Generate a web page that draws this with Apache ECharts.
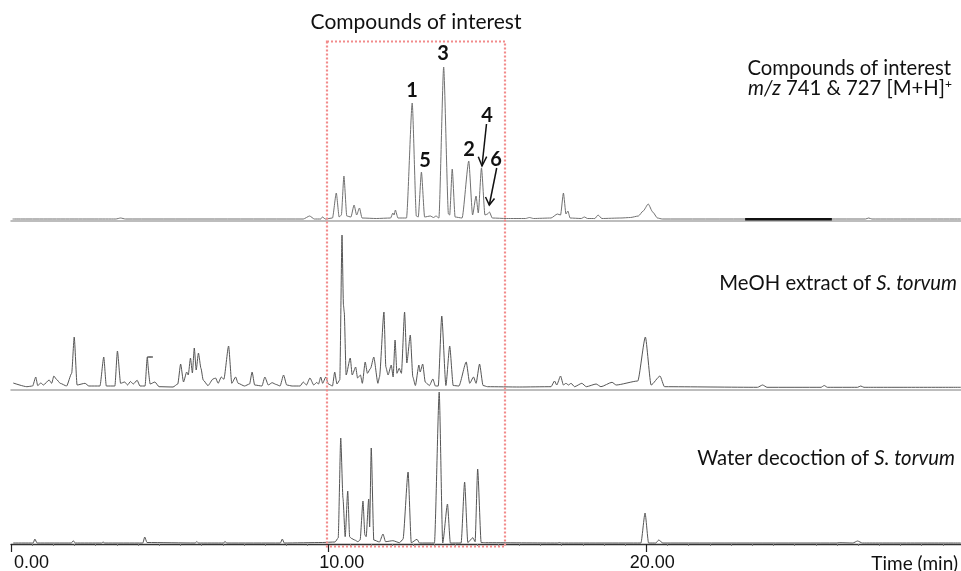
<!DOCTYPE html>
<html>
  <head>
    <meta charset="UTF-8">
    <title>Chromatograms</title>
    <script src="https://cdn.jsdelivr.net/npm/echarts@6/dist/echarts.min.js"></script>
    <style>
    * {
      margin: 0;
      padding: 0;
    }
    </style>
  </head>
  <body>
    <div id="main" style="width: 961px;height: 571px"></div>
    <script>
// [time (min), signal], signal in panel units
var ionTrace = [
  [0.05, 2], [3.3, 2], [3.45, 3], [3.6, 2], [9.2, 2], [9.4, 5], [9.55, 2], [9.75, 2], [9.8, 4], [9.9, 2],
  [10.12, 3], [10.24, 28], [10.33, 4], [10.40, 6], [10.48, 45], [10.57, 5], [10.70, 4], [10.80, 16], [10.88, 6],
  [10.97, 13], [11.05, 3], [11.5, 2.5], [11.95, 3], [12.02, 8], [12.06, 6], [12.1, 11], [12.18, 3], [12.45, 3],
  [12.63, 118], [12.76, 5], [12.82, 4], [12.92, 49], [13.02, 4], [13.2, 5], [13.3, 3.5], [13.38, 5], [13.47, 3],
  [13.62, 154], [13.77, 7], [13.81, 6], [13.89, 52], [13.98, 4], [14.2, 3], [14.41, 60], [14.53, 6], [14.64, 25],
  [14.71, 8], [14.81, 53], [14.92, 6], [15.0, 7], [15.06, 9], [15.15, 3], [15.6, 2.5], [16.2, 2.5], [16.32, 3.5],
  [16.45, 2.5], [17.0, 3], [17.2, 7], [17.3, 6], [17.39, 28], [17.47, 7], [17.53, 10], [17.6, 3], [17.95, 2.5],
  [18.05, 4], [18.15, 2.5], [18.38, 2.5], [18.48, 6], [18.6, 2.5], [19.2, 3], [19.5, 3.5], [19.75, 5], [19.9, 10],
  [20.06, 17], [20.2, 9], [20.35, 3], [20.5, 2], [26.9, 2], [27.0, 3], [27.1, 2], [29.9, 2]
]
var ionBaselineMark = [[23.11, 1.7], [25.84, 1.7]]

var meohTrace = [
  [0.07, 7], [0.5, 3.3], [0.68, 4], [0.78, 13], [0.84, 4.5], [0.94, 7], [1.02, 5], [1.2, 10], [1.28, 6.7],
  [1.35, 14], [1.43, 10.7], [1.55, 6.7], [1.75, 4], [1.91, 16.7], [1.99, 53], [2.08, 5], [2.33, 6.7], [2.45, 4],
  [2.8, 4], [2.92, 33], [3.0, 4], [3.27, 4], [3.35, 39], [3.45, 6.7], [3.58, 8], [3.67, 5], [3.76, 8.5], [3.85, 6],
  [3.97, 9.7], [4.06, 4], [4.22, 4], [4.29, 33], [4.46, 33], [4.3, 33], [4.38, 6], [4.53, 8], [4.66, 3.3],
  [5.1, 3], [5.25, 6], [5.34, 26], [5.43, 8], [5.53, 18], [5.58, 15], [5.65, 32], [5.71, 17], [5.77, 42],
  [5.83, 20], [5.90, 37], [5.98, 21.7], [6.05, 10], [6.2, 4.4], [6.36, 11], [6.44, 12], [6.52, 6.7], [6.62, 13],
  [6.70, 10.7], [6.85, 44], [6.95, 6.7], [7.07, 13], [7.15, 6.7], [7.35, 4], [7.51, 6], [7.59, 18], [7.67, 5],
  [7.9, 4], [7.99, 13], [8.1, 5], [8.22, 7.3], [8.35, 5.5], [8.47, 4], [8.58, 15], [8.68, 5], [8.85, 4], [9.1, 4],
  [9.2, 8], [9.3, 5], [9.41, 12], [9.53, 5], [9.62, 7.5], [9.68, 6], [9.75, 13], [9.81, 6.7], [9.91, 13], [9.99, 6],
  [10.12, 4], [10.19, 18], [10.26, 6], [10.35, 10], [10.42, 155], [10.465, 85], [10.49, 78], [10.55, 15],
  [10.68, 32], [10.74, 15], [10.85, 23], [10.91, 12], [11.0, 15], [11.06, 6.7], [11.15, 28], [11.22, 16.7],
  [11.32, 21.7], [11.42, 33], [11.55, 6.7], [11.6, 13], [11.74, 78], [11.8, 23], [11.87, 15], [11.97, 25],
  [12.03, 13], [12.09, 50], [12.15, 16.7], [12.22, 21.7], [12.29, 16.7], [12.39, 78], [12.46, 27], [12.57, 55],
  [12.65, 13], [12.73, 4.5], [12.84, 25], [12.88, 18], [12.96, 26], [13.04, 8], [13.17, 4.4], [13.28, 11],
  [13.36, 4], [13.45, 4], [13.56, 74], [13.69, 4.5], [13.81, 44], [13.92, 4.5], [14.1, 4], [14.33, 28],
  [14.44, 6.7], [14.56, 13], [14.64, 6.7], [14.75, 26], [14.86, 4.5], [15.0, 3.3], [16.0, 3], [17.0, 3.3],
  [17.11, 9], [17.18, 5], [17.30, 14], [17.39, 5], [17.47, 6.7], [17.55, 5], [17.63, 6.7], [17.74, 3.3],
  [17.97, 6.7], [18.11, 3.3], [18.42, 6], [18.57, 3.3], [18.92, 7.7], [19.05, 5], [19.73, 9], [19.97, 53],
  [20.15, 5], [20.43, 14], [20.57, 3.3], [23.5, 2.7], [23.66, 5], [23.8, 2.7], [25.5, 2.7], [25.6, 4.5],
  [25.7, 2.7], [26.65, 2.7], [26.75, 4], [26.85, 2.7], [29.9, 2.7]
]

var waterTrace = [
  [0.07, 1], [0.7, 1], [0.75, 5], [0.82, 1], [1.9, 1], [1.96, 3.3], [2.02, 1], [2.85, 1], [2.9, 2], [2.95, 1],
  [4.15, 1], [4.21, 7], [4.28, 1.5], [5.8, 1], [5.85, 2.5], [5.9, 1], [6.7, 1], [6.73, 2.5], [6.8, 1], [8.48, 1],
  [8.54, 5], [8.6, 1], [9.8, 1.5], [10.2, 2], [10.3, 6], [10.38, 106], [10.45, 46], [10.52, 7.3], [10.60, 53],
  [10.66, 7.3], [10.71, 5.7], [10.82, 4], [10.92, 2.3], [10.99, 4], [11.08, 43], [11.14, 9], [11.18, 7.3],
  [11.26, 45], [11.29, 17], [11.34, 96], [11.42, 4], [11.6, 2], [11.71, 10], [11.79, 2.3], [12.02, 3.3],
  [12.23, 1.3], [12.34, 4.7], [12.5, 72], [12.6, 1.3], [12.78, 4.7], [12.86, 1], [13.33, 1], [13.48, 152],
  [13.59, 1], [13.74, 40], [13.83, 1], [14.17, 1], [14.28, 62], [14.38, 1.5], [14.54, 6.3], [14.61, 2.3],
  [14.69, 75], [14.80, 1.5], [14.94, 1.3], [17.2, 1], [17.26, 1.5], [17.32, 1], [19.83, 1], [19.96, 31],
  [20.07, 1], [20.3, 1], [20.39, 4], [20.52, 1], [26.0, 1], [26.07, 1.3], [26.5, 1], [26.65, 3], [26.8, 1],
  [29.9, 1]
]

var timeTicks = [0, 10, 20]
var panelTops = [51, 221, 390]
var panelHeights = [170, 169, 154]

var myChart = echarts.init(document.getElementById('main'))

var font = 'Lato, "Open Sans", sans-serif'
var grids = panelTops.map(function (top, i) {
  return { left: 11, right: -3, top: top, height: panelHeights[i], outerBoundsMode: 'none', containLabel: false }
})

var xAxes = grids.map(function (g, i) {
  var last = i === grids.length - 1
  return {
    type: 'value',
    gridIndex: i,
    min: 0,
    max: 30,
    interval: 10,
    splitLine: { show: false },
    axisLine: { lineStyle: { color: last ? '#333' : '#a8a8a8', width: last ? 1.3 : 1.5 } },
    axisTick: { show: last, length: 8, lineStyle: { color: '#222', width: 1.2 } },
    minorTick: { show: last, splitNumber: 15, length: 2, lineStyle: { color: '#777' } },
    axisLabel: {
      show: last,
      margin: 10,
      alignMinLabel: 'left',
      formatter: function (v) {
        if (timeTicks.indexOf(v) < 0) return ''
        return '{t' + v + '|' + v.toFixed(2) + '}'
      },
      rich: {
        t0: { fontSize: 18, fontFamily: 'Liberation Sans', color: '#111', padding: [0, 0, 0, 3] },
        t10: { fontSize: 18, fontFamily: 'Liberation Sans', color: '#111', padding: [0, 0, 0, 26] },
        t20: { fontSize: 18, fontFamily: 'Liberation Sans', color: '#111', padding: [0, 0, 0, 12] }
      }
    }
  }
})

var yAxes = panelHeights.map(function (h, i) {
  return { type: 'value', gridIndex: i, min: 0, max: h, show: false }
})

function trace(data, i, color) {
  return {
    type: 'line',
    xAxisIndex: i,
    yAxisIndex: i,
    data: data,
    showSymbol: false,
    smooth: 0.2,
    smoothMonotone: 'x',
    lineStyle: { color: color, width: 1 }
  }
}

var series = [
  trace(ionTrace, 0, '#707070'),
  trace(meohTrace, 1, '#555'),
  trace(waterTrace, 2, '#555'),
  {
    type: 'line', xAxisIndex: 0, yAxisIndex: 0, data: ionBaselineMark,
    showSymbol: false, lineStyle: { color: '#111', width: 2.5 }
  }
]

function label(text, x, y, size, extra) {
  return {
    type: 'text', x: x, y: y, z: 10,
    style: Object.assign({
      text: text, fill: '#111', font: size + 'px ' + font,
      textAlign: 'right', textVerticalAlign: 'middle',
      rich: {
        i: { fontStyle: 'italic', fontSize: size, fontFamily: 'Lato', fill: '#111' },
        s: { fontSize: 12, fontFamily: 'Lato', fill: '#111', verticalAlign: 'top' }
      }
    }, extra || {})
  }
}

function peakNo(text, x, y) {
  return {
    type: 'text', x: x, y: y, z: 10,
    style: { text: text, fill: '#111', font: 'bold 20px ' + font, textAlign: 'center', textVerticalAlign: 'middle' }
  }
}

function arrow(points) {
  return {
    type: 'polyline', z: 10,
    shape: { points: points },
    style: { stroke: '#111', lineWidth: 1.5, fill: 'none' }
  }
}

var graphic = [
  {
    type: 'rect', z: 5,
    shape: { x: 327, y: 41.5, width: 178, height: 505 },
    style: { fill: 'none', stroke: '#f28b8b', lineWidth: 2.2, lineDash: [2, 2] }
  },
  label('Compounds of interest', 416, 22, 21, { textAlign: 'center' }),
  label('Compounds of interest', 951, 68, 20.3),
  label('{i|m/z} 741 & 727 [M+H]{s|+}', 952, 88, 20.3),
  label('MeOH extract of {i|S. torvum}', 957, 283, 20.3),
  label('Water decoction of {i|S. torvum}', 955, 458, 20.3),
  label('Time (min)', 958, 564, 19),
  peakNo('1', 412, 91),
  peakNo('3', 443, 54),
  peakNo('5', 425, 161),
  peakNo('2', 469, 150),
  peakNo('4', 487, 116),
  peakNo('6', 496, 160),
  arrow([[486.5, 124], [482, 166]]),
  arrow([[478.3, 156.7], [482, 166], [486.7, 156.7]]),
  arrow([[496.7, 168], [489.3, 205]]),
  arrow([[485.5, 197], [489.3, 205], [494.5, 198.5]])
]

myChart.setOption({
  animation: false,
  backgroundColor: '#fff',
  grid: grids,
  xAxis: xAxes,
  yAxis: yAxes,
  series: series,
  graphic: graphic
})
    </script>
  </body>
</html>
